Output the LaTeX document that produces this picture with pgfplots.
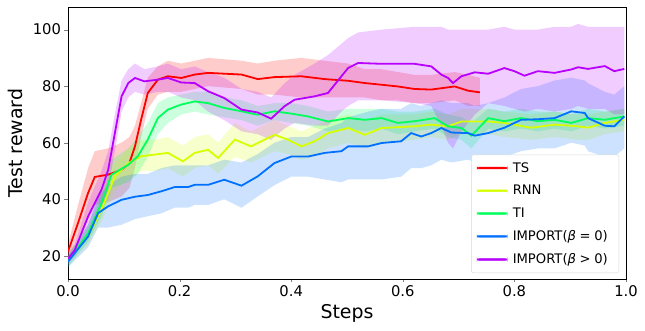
\documentclass[border=0pt]{standalone}
\usepackage{pgfplots}
\usepackage{pgfplotstable}
\usepackage{fontspec}
\setmainfont{DejaVu Sans}
\pgfplotsset{compat=1.18}
\usepgfplotslibrary{fillbetween}

\definecolor{tsred}{RGB}{255,0,0}
\definecolor{rnnyel}{RGB}{214,255,0}
\definecolor{tigreen}{RGB}{0,255,92}
\definecolor{impblue}{RGB}{0,112,255}
\definecolor{imppurp}{RGB}{184,0,255}

% x in units of 1e7 steps; m = mean, lo/hi = shaded band
\pgfplotstableread{
x m lo hi
0.000 21.5 19 24
0.018 31.6 26 38
0.036 42.2 34 51
0.048 47.9 38 57
0.072 48.7 39 58
0.096 50.4 41 60
0.110 52.8 44 62
0.120 58.7 51 66
0.131 68.1 62 74
0.143 77.6 72 83
0.161 82.3 77 87
0.179 83.5 78 89
0.203 82.9 78 88
0.227 84.1 79 89
0.251 84.7 80 90
0.311 84.1 79 89
0.340 82.5 77 88
0.370 83.2 77 89
0.418 83.5 76 90
0.460 82.5 76 89
0.502 81.9 76 88
0.532 81.1 76 86
0.562 80.5 75 86
0.591 79.9 75 85
0.621 79.0 74 84
0.651 78.8 74 84
0.693 79.9 75 85
0.717 78.4 73 84
0.738 77.8 73 83
}\tsdata

\pgfplotstableread{
x m lo hi
0.000 19.0 17 21
0.036 26.8 24 30
0.060 36.3 32 41
0.084 48.1 43 53
0.108 52.8 47 58
0.131 55.2 50 61
0.155 55.8 50 61
0.179 56.4 51 62
0.206 53.4 48 59
0.227 56.4 51 62
0.251 57.5 52 63
0.269 54.6 49 60
0.299 61.1 55 67
0.328 58.7 53 64
0.370 62.8 57 68
0.394 61.1 56 66
0.418 58.7 54 64
0.442 60.5 55 66
0.466 63.4 58 68
0.502 65.2 60 70
0.532 62.8 58 68
0.562 65.2 60 70
0.621 65.8 61 70
0.651 66.4 62 71
0.681 65.8 61 70
0.705 67.5 63 72
0.753 67.5 63 72
0.782 67.0 62 71
0.830 65.3 61 70
0.872 66.4 62 71
0.914 65.8 61 70
0.932 65.3 61 70
0.962 67.0 63 71
0.997 68.1 64 72
}\rnndata

\pgfplotstableread{
x m lo hi
0.000 18.0 16 20
0.036 28.0 25 31
0.060 38.7 34 43
0.078 48.7 44 54
0.108 52.2 46 58
0.125 55.2 49 62
0.143 61.1 55 67
0.161 68.7 63 74
0.179 71.7 67 76
0.203 73.5 70 77
0.227 74.6 71 78
0.251 74.0 70 78
0.280 72.3 69 76
0.311 71.1 68 75
0.340 69.9 66 73
0.370 71.1 68 74
0.400 70.3 67 74
0.430 69.3 66 73
0.466 67.5 64 71
0.502 68.7 65 72
0.532 68.1 64 72
0.562 68.7 65 72
0.591 67.0 63 71
0.621 67.6 64 71
0.657 68.7 65 72
0.681 65.8 62 70
0.705 65.2 61 69
0.723 62.5 58 67
0.753 68.7 65 72
0.782 67.6 64 71
0.812 68.7 65 72
0.842 67.6 64 71
0.872 68.1 65 71
0.902 67.0 64 70
0.932 68.7 66 72
0.962 68.1 65 71
0.997 69.3 66 72
}\tidata

\pgfplotstableread{
x m lo hi
0.000 18.0 16 20
0.036 26.8 23 31
0.054 35.1 30 41
0.072 37.5 30 45
0.096 39.8 31 48
0.120 40.9 33 49
0.143 41.5 34 49
0.167 42.8 35 51
0.191 44.3 37 52
0.215 44.3 37 52
0.227 45.1 38 52
0.251 45.1 38 52
0.280 46.9 40 54
0.311 44.8 37 53
0.340 48.1 41 56
0.370 52.8 45 60
0.400 55.1 48 62
0.430 55.1 48 62
0.460 56.4 47 65
0.490 57.0 46 67
0.502 58.7 47 69
0.538 58.7 47 71
0.562 59.9 47 72
0.597 60.5 48 72
0.615 63.4 51 74
0.633 62.2 51 73
0.651 63.4 52 74
0.669 65.2 54 75
0.687 63.6 53 74
0.717 63.4 54 74
0.729 62.5 53 73
0.753 63.4 54 74
0.782 65.3 55 76
0.812 68.1 57 79
0.842 68.3 58 80
0.872 68.7 58 82
0.902 71.1 60 83
0.926 70.5 59 82
0.932 68.7 57 81
0.962 66.0 55 78
0.979 65.8 55 77
0.997 69.3 58 80
}\bzdata

\pgfplotstableread{
x m lo hi
0.000 19.0 17 21
0.012 22.0 20 24
0.036 33.9 29 39
0.060 43.4 37 50
0.072 50.4 44 57
0.084 63.4 57 70
0.096 76.4 71 82
0.108 81.1 76 86
0.120 82.9 78 88
0.137 81.7 77 86
0.161 82.3 78 87
0.179 82.9 78 88
0.203 81.3 76 86
0.227 81.1 75 87
0.251 78.2 71 85
0.280 75.8 68 83
0.311 71.7 64 79
0.340 70.7 63 78
0.364 68.5 61 76
0.388 72.9 65 81
0.406 75.2 67 84
0.442 76.4 66 88
0.466 77.6 66 91
0.490 83.5 71 95
0.502 86.4 73 97
0.520 88.2 75 99
0.562 87.9 75 100
0.621 87.9 74 101
0.651 87.0 73 101
0.669 84.1 66 101
0.681 82.9 60 100
0.690 81.1 58 100
0.705 83.5 64 100
0.729 84.9 70 100
0.753 84.4 74 100
0.782 86.4 73 101
0.800 85.3 72 100
0.818 83.7 71 100
0.842 85.3 72 100
0.872 84.7 71 101
0.902 85.9 72 101
0.914 86.7 73 102
0.932 86.1 72 101
0.962 87.1 72 101
0.979 85.3 70 101
0.997 86.1 70 101
}\bpdata

\newcommand{\band}[3]{%
  \addplot[draw=none, forget plot, name path=#3lo] table[x=x,y=lo] {#1};
  \addplot[draw=none, forget plot, name path=#3hi] table[x=x,y=hi] {#1};
  \addplot[fill=#2, fill opacity=0.2, draw=none, forget plot] fill between[of=#3lo and #3hi];
}
% legend sample: a filled bar instead of a stroked line
\newcommand{\legbar}[1]{\addlegendimage{legend image code/.code={\fill[#1] (0bp,-0.9bp) rectangle (30bp,0.9bp);}}}

\begin{document}
\begin{tikzpicture}
\begin{axis}[
    scale only axis,
    width=558bp, height=272bp,
    xmin=0, xmax=1, ymin=11.8, ymax=108,
    xtick={0,0.2,0.4,0.6,0.8,1.0},
    ytick={20,40,60,80,100},
    xticklabel style={/pgf/number format/.cd, fixed, fixed zerofill, precision=1},
    /pgf/number format/assume math mode=true,
    tick align=outside, tick pos=left,
    major tick length=3.5bp,
    tick label style={font=\fontsize{14.8}{17}\selectfont},
    xlabel={Steps}, ylabel={Test reward},
    label style={font=\fontsize{19}{22}\selectfont},
    xlabel style={at={(axis description cs:0.5,-0.125)}, anchor=center},
    ylabel style={at={(axis description cs:-0.095,0.5)}, anchor=center},
    axis line style={line width=0.8bp},
    legend cell align=left,
    legend style={at={(rel axis cs:0.9875,0.022)}, anchor=south east,
        draw=black!15, rounded corners=2bp, fill=white,
        font=\fontsize{13.2}{15}\selectfont, row sep=7.6bp, inner xsep=5.5bp, inner ysep=5.5bp,
        nodes={inner xsep=5.5bp}},
]
\band{\tsdata}{tsred}{ts}
\band{\rnndata}{rnnyel}{rnn}
\band{\tidata}{tigreen}{ti}
\band{\bzdata}{impblue}{bz}
\band{\bpdata}{imppurp}{bp}

\addplot[color=tsred, line width=1.8bp, forget plot] table[x=x,y=m] {\tsdata};
\addplot[color=rnnyel, line width=1.8bp, forget plot] table[x=x,y=m] {\rnndata};
\addplot[color=tigreen, line width=1.8bp, forget plot] table[x=x,y=m] {\tidata};
\addplot[color=impblue, line width=1.8bp, forget plot] table[x=x,y=m] {\bzdata};
\addplot[color=imppurp, line width=1.8bp, forget plot] table[x=x,y=m] {\bpdata};

\legbar{tsred}
\addlegendentry{TS}
\legbar{rnnyel}
\addlegendentry{RNN}
\legbar{tigreen}
\addlegendentry{TI}
\legbar{impblue}
\addlegendentry{IMPORT(\textit{β}\;=\;0)}
\legbar{imppurp}
\addlegendentry{IMPORT(\textit{β}\;>\;0)}

\node[anchor=east, font=\fontsize{14.8}{17}\selectfont] at ([yshift=-32.7bp]rel axis cs:1,0) {1e7};
\end{axis}
\path (current axis.south west) ++(-68bp,-52bp) coordinate (bl);
\path (current axis.north east) ++(19bp,7bp) coordinate (tr);
\path (bl) rectangle (tr);
\end{tikzpicture}
\end{document}
